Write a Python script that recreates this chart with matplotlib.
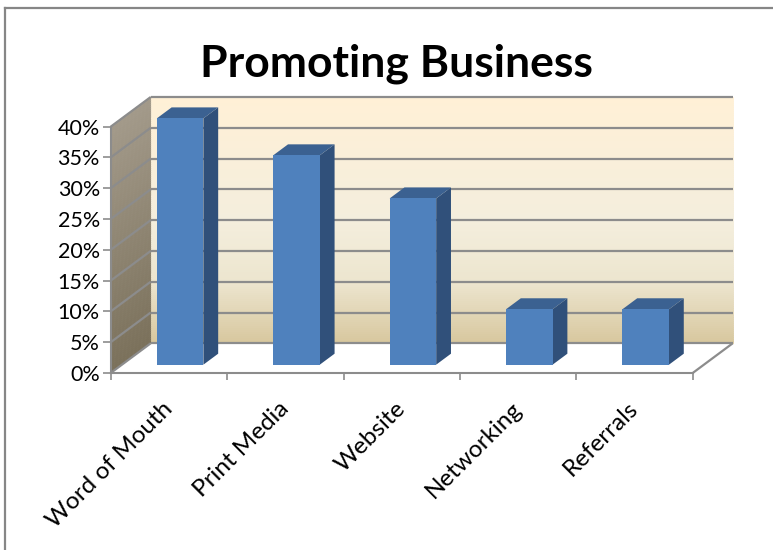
import numpy as np
import matplotlib
matplotlib.use("Agg")
import matplotlib.pyplot as plt
from matplotlib.patches import Polygon
from matplotlib.lines import Line2D
from matplotlib.transforms import IdentityTransform, ScaledTranslation
from matplotlib.colors import to_rgb

# ---- data -------------------------------------------------------------
categories = ["Word of Mouth", "Print Media", "Website", "Networking", "Referrals"]
shares = [0.40, 0.34, 0.27, 0.09, 0.09]
y_ticks = [0.00, 0.05, 0.10, 0.15, 0.20, 0.25, 0.30, 0.35, 0.40]
y_tick_labels = ["0%", "5%", "10%", "15%", "20%", "25%", "30%", "35%", "40%"]
title = "Promoting Business"

# ---- styling ----------------------------------------------------------
FONT = "Lato"
GRID = "#8C8C8C"
FRONT = "#4F81BD"
SIDE = "#30507A"
TOP = "#3B6191"
WALL_STOPS = [(0.0, "#FFF0D6"), (0.5, "#F4EEDD"), (0.75, "#ECE5CE"), (1.0, "#D7C69D")]
SIDE_STOPS = [(0.0, "#A39A8A"), (1.0, "#7A705A")]

W, H = 773, 550
fig = plt.figure(figsize=(W / 100, H / 100), dpi=100)
fig.patch.set_facecolor("white")

# front plane of the plot box (pixels, measured from the top-left corner)
left, right, top, bottom = 110.7, 692.7, 126.7, 373.0
ax = fig.add_axes([left / W, 1 - bottom / H, (right - left) / W, (bottom - top) / H])
n = len(categories)
ax.set_xlim(-0.5, n - 0.5)
ax.set_ylim(0, y_ticks[-1])
ax.patch.set_visible(False)

# oblique depth vector of the box, in display pixels
DX, DY = 40.0, 29.7


def P(x, y, d):
    px, py = ax.transData.transform((x, y))
    return (px + d * DX, py + d * DY)


def poly(pts, color, z, ec=None, lw=0.0):
    p = Polygon(pts, closed=True, facecolor=color, edgecolor=ec if ec else color,
                linewidth=lw, transform=IdentityTransform(), clip_on=False, zorder=z)
    ax.add_patch(p)


def line(p0, p1, color=GRID, lw=1.6, z=1.5):
    ax.add_line(Line2D([p0[0], p1[0]], [p0[1], p1[1]], color=color, linewidth=lw,
                       transform=IdentityTransform(), clip_on=False, zorder=z,
                       solid_capstyle="butt"))


def gradient(stops, t):
    for (t0, c0), (t1, c1) in zip(stops[:-1], stops[1:]):
        if t0 <= t <= t1:
            f = (t - t0) / (t1 - t0) if t1 > t0 else 0
            a, b = np.array(to_rgb(c0)), np.array(to_rgb(c1))
            return tuple(a + (b - a) * f)
    return to_rgb(stops[-1][1])


xl, xr = -0.5, n - 0.5
vmax = y_ticks[-1]

# back wall and side wall with vertical gradients
levels = np.linspace(0, vmax, 121)
for v0, v1 in zip(levels[:-1], levels[1:]):
    t = 1 - (v0 + v1) / 2 / vmax
    poly([P(xl, v0, 1), P(xr, v0, 1), P(xr, v1, 1), P(xl, v1, 1)],
         gradient(WALL_STOPS, t), 0.5, lw=0.6)
    poly([P(xl, v0, 0), P(xl, v0, 1), P(xl, v1, 1), P(xl, v1, 0)],
         gradient(SIDE_STOPS, t), 0.5, lw=0.6)

# floor
poly([P(xl, 0, 0), P(xr, 0, 0), P(xr, 0, 1), P(xl, 0, 1)], "white", 0.6)
line(P(xr, 0, 0), P(xr, 0, 1), z=0.7)

# gridlines on the back wall and the side wall
for v in y_ticks:
    line(P(xl, v, 1), P(xr, v, 1), z=0.8)
    line(P(xl, v, 0), P(xl, v, 1), z=0.8)

# 3-D columns
d0, d1 = 0.28, 0.65
half = 0.20
for i, v in enumerate(shares):
    x0, x1 = i - half, i + half
    poly([P(x1, 0, d0), P(x1, 0, d1), P(x1, v, d1), P(x1, v, d0)], SIDE, 2)
    poly([P(x0, v, d0), P(x1, v, d0), P(x1, v, d1), P(x0, v, d1)], TOP, 2)
    poly([P(x0, 0, d0), P(x1, 0, d0), P(x1, v, d0), P(x0, v, d0)], FRONT, 2.1)

# axes lines and ticks
for s in ("top", "right"):
    ax.spines[s].set_visible(False)
for s in ("left", "bottom"):
    ax.spines[s].set_color(GRID)
    ax.spines[s].set_linewidth(1.5)
    ax.spines[s].set_zorder(3)

ax.set_yticks(y_ticks)
ax.set_yticklabels(y_tick_labels, fontfamily=FONT)
ax.tick_params(axis="y", direction="out", length=5.8, width=1.2, color=GRID,
               labelsize=15.5, pad=2)
ax.set_xticks(np.arange(-0.5, n, 1.0))
ax.set_xticklabels([])
ax.tick_params(axis="x", direction="out", length=5.0, width=1.2, color=GRID)

offset = ax.transData + ScaledTranslation(-5.0 / 72, -18.0 / 72, fig.dpi_scale_trans)
for i, name in enumerate(categories):
    ax.text(i, 0, name, transform=offset, rotation=45, rotation_mode="anchor",
            ha="right", va="top", fontsize=17.5, fontfamily=FONT, color="black")

# title
fig.text(396 / W, 1 - 76 / H, title, ha="center", va="baseline", fontsize=32,
         fontweight="bold", fontfamily=FONT)

# chart frame
fig.add_artist(Line2D([5, 5], [0, H - 8], color="#868686", linewidth=1.6,
                      transform=IdentityTransform()))
fig.add_artist(Line2D([5, W], [H - 8, H - 8], color="#868686", linewidth=1.6,
                      transform=IdentityTransform()))

fig.savefig("out.png", dpi=100, facecolor="white")
